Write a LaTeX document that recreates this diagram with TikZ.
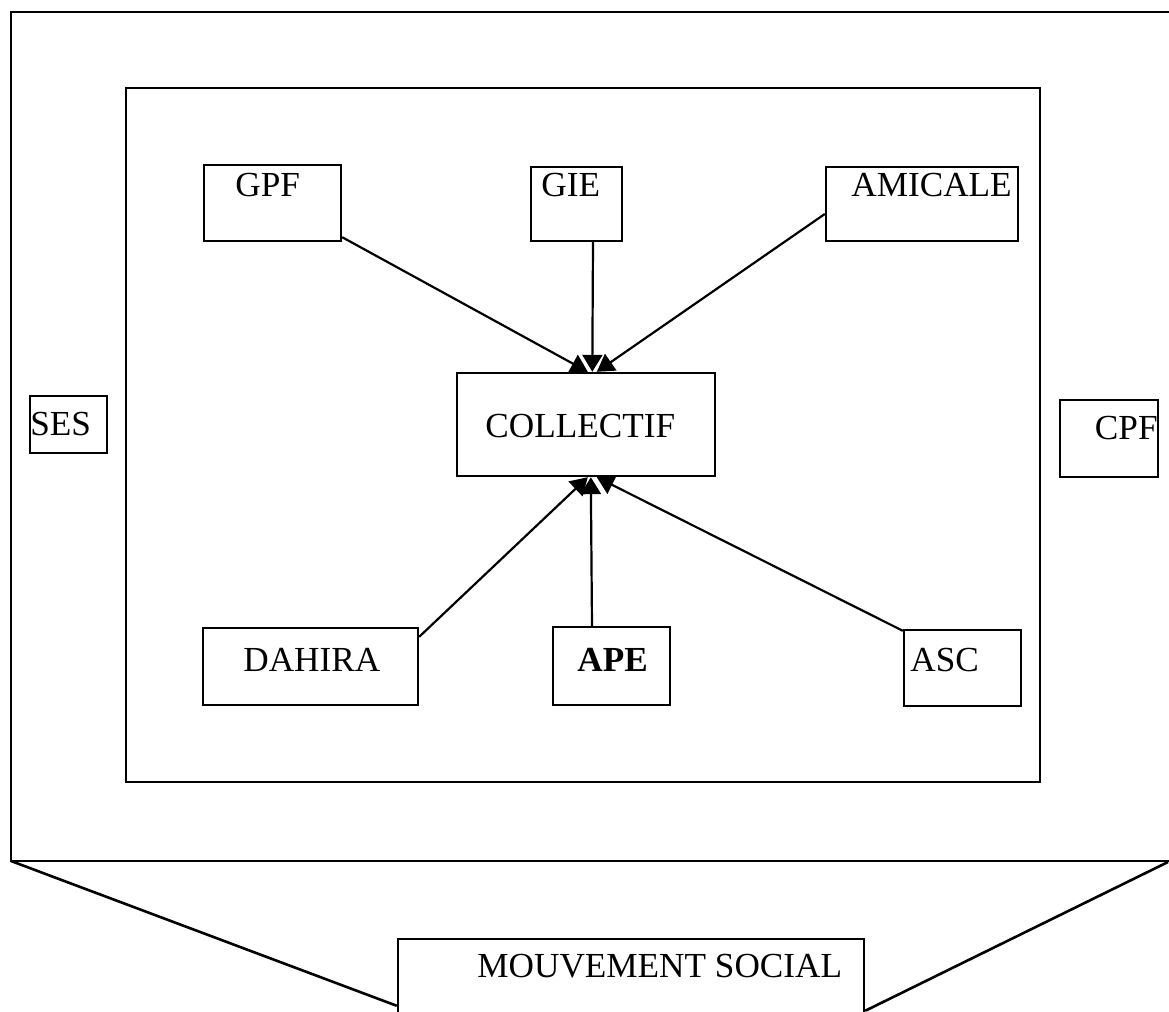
\documentclass[tikz,border=0pt]{standalone}
\usepackage{fontspec}
\setmainfont{Liberation Serif}
\usetikzlibrary{arrows.meta,fit,calc}
\begin{document}
\begin{tikzpicture}[x=0.5pt,y=-0.5pt,
  frame/.style={draw,line width=1.3pt,inner sep=0pt,rectangle},
  box/.style={draw,line width=1.2pt,inner sep=0pt,rectangle},
  txt/.style={inner sep=0pt,anchor=base west,font=\fontsize{17.6pt}{20pt}\selectfont},
  link/.style={line width=1.1pt,-{Triangle[length=8.5pt,width=10pt]}},
  flank/.style={line width=1.3pt}]
  \clip (0,0) rectangle (1169,1012);
  \fill[white] (0,0) rectangle (1169,1012);

  % outer and inner frames
  \node[frame,fit={(11,12) (1180,861)}] (outer) {};
  \node[frame,fit={(126,88) (1040,782)}] (inner) {};

  % side boxes
  \node[box,fit={(30,396) (107,453)}] (ses) {};
  \node[txt] (ses-t) at (30,435) {SES};
  \node[box,fit={(1060,400) (1158,477)}] (cpf) {};
  \node[txt,anchor=base east] (cpf-t) at (1158,439) {CPF};

  % upper row
  \node[box,fit={(204,165) (341,241)}] (gpf) {};
  \node[txt] (gpf-t) at (235,196) {GPF};
  \node[box,fit={(531,167) (622,241)}] (gie) {};
  \node[txt] (gie-t) at (541,196) {GIE};
  \node[box,fit={(826,167) (1018,241)}] (ami) {};
  \node[txt] (ami-t) at (851,196) {AMICALE};

  % centre
  \node[box,fit={(457,373) (715,476)}] (col) {};
  \node[txt] (col-t) at (485,437) {COLLECTIF};

  % lower row
  \node[box,fit={(203,628) (418,705)}] (dah) {};
  \node[txt] (dah-t) at (243,671) {DAHIRA};
  \node[box,fit={(553,627) (670,705)}] (ape) {};
  \node[txt] (ape-t) at (577,671) {\bfseries APE};
  \node[box,fit={(904,630) (1021,706)}] (asc) {};
  \node[txt] (asc-t) at (910,671) {ASC};

  % bottom box
  \node[box,fit={(398,939) (864,1040)}] (mvt) {};
  \node[txt] (mvt-t) at (477,977) {MOUVEMENT SOCIAL};

  % connectors into COLLECTIF
  \draw[link] ($(gpf.south east)+(0,-5)$) -- ($(col.north west)+(132,0)$);
  \draw[link] ($(gie.south)+(16.5,0)$) -- ($(col.north west)+(136.5,0)$);
  \draw[link] ($(ami.west)+(0,10)$) -- ($(col.north west)+(141,0)$);
  \draw[link] ($(dah.north east)+(0,10)$) -- ($(col.south west)+(132,0)$);
  \draw[link] ($(ape.north)+(-19.5,0)$) -- ($(col.south west)+(135,0)$);
  \draw[link] ($(asc.north west)+(0,2)$) -- ($(col.south west)+(141,0)$);

  % flanks joining the frame to the bottom box
  \coordinate (fl) at (11,861);
  \coordinate (fr) at (1168,862);
  \draw[flank] (fl) -- ($(mvt.north west)+(0,68)$);
  \draw[flank] (fr) -- ($(mvt.north east)+(0,73)$);
\end{tikzpicture}
\end{document}
